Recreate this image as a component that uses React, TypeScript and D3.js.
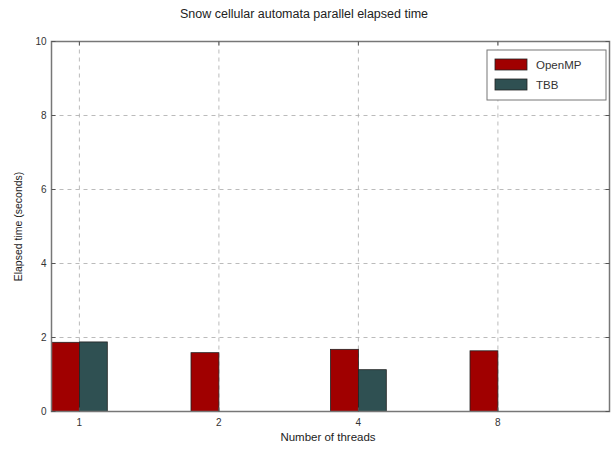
import React from "react";
import * as d3 from "d3";

// Thread counts on the x axis and elapsed times (seconds) per implementation
const threadCounts = ["1", "2", "4", "8"];
const openmpTimes = [1.87, 1.59, 1.68, 1.64];
const tbbTimes: (number | null)[] = [1.88, null, 1.13, null];
const yTicks = [0, 2, 4, 6, 8, 10];

const series = [
  { name: "OpenMP", values: openmpTimes, color: "#a00000", offset: -1 },
  { name: "TBB", values: tbbTimes, color: "#2f5052", offset: 0 },
];

const W = 612;
const H = 451;
const margin = { left: 51.5, right: 2.5, top: 41.5, bottom: 39.5 };
const barWidth = 0.2;
const font = "'Liberation Sans', Arial, sans-serif";

export default function App() {
  const x = d3
    .scaleLinear()
    .domain([-0.2, 3.8])
    .range([margin.left, W - margin.right]);
  const y = d3
    .scaleLinear()
    .domain([0, 10])
    .range([H - margin.bottom, margin.top]);

  const plotW = W - margin.right - margin.left;
  const plotH = H - margin.bottom - margin.top;

  return (
    <svg
      width={W}
      height={H}
      style={{ position: "absolute", left: 0, top: 0, background: "#fff" }}
      fontFamily={font}
    >
      <text x={304} y={18} textAnchor="middle" fontSize={12.5} fill="#222">
        Snow cellular automata parallel elapsed time
      </text>

      {/* grid */}
      {threadCounts.map((_, i) => (
        <line
          key={"gx" + i}
          x1={x(i)}
          x2={x(i)}
          y1={margin.top}
          y2={H - margin.bottom}
          stroke="#aaa"
          strokeWidth={0.8}
          strokeDasharray="4,4"
        />
      ))}
      {yTicks.slice(1, -1).map((t) => (
        <line
          key={"gy" + t}
          x1={margin.left}
          x2={W - margin.right}
          y1={y(t)}
          y2={y(t)}
          stroke="#aaa"
          strokeWidth={0.8}
          strokeDasharray="4,4"
        />
      ))}

      {/* bars */}
      {series.map((s) =>
        s.values.map((v, i) =>
          v == null ? null : (
            <rect
              key={s.name + i}
              x={x(i + s.offset * barWidth)}
              y={y(v)}
              width={x(barWidth) - x(0)}
              height={y(0) - y(v)}
              fill={s.color}
              stroke="#222"
              strokeWidth={0.8}
            />
          )
        )
      )}

      {/* frame */}
      <rect
        x={margin.left}
        y={margin.top}
        width={plotW}
        height={plotH}
        fill="none"
        stroke="#777"
        strokeWidth={1.5}
      />

      {/* y ticks */}
      {yTicks.map((t) => (
        <g key={"yt" + t}>
          <line x1={margin.left} x2={margin.left + 4} y1={y(t)} y2={y(t)} stroke="#555" />
          <line x1={W - margin.right} x2={W - margin.right - 4} y1={y(t)} y2={y(t)} stroke="#555" />
          <text
            x={margin.left - 5}
            y={y(t)}
            dy="0.35em"
            textAnchor="end"
            fontSize={10}
            fill="#333"
          >
            {t}
          </text>
        </g>
      ))}

      {/* x ticks */}
      {threadCounts.map((c, i) => (
        <g key={"xt" + i}>
          <line x1={x(i)} x2={x(i)} y1={H - margin.bottom} y2={H - margin.bottom - 4} stroke="#555" />
          <line x1={x(i)} x2={x(i)} y1={margin.top} y2={margin.top + 4} stroke="#555" />
          <text x={x(i)} y={H - margin.bottom + 14} textAnchor="middle" fontSize={10} fill="#333">
            {c}
          </text>
        </g>
      ))}

      <text x={328} y={441} textAnchor="middle" fontSize={11.5} fill="#222">
        Number of threads
      </text>
      <text
        transform={`translate(22,${(margin.top + H - margin.bottom) / 2}) rotate(-90)`}
        textAnchor="middle"
        fontSize={10.5}
        fill="#222"
      >
        Elapsed time (seconds)
      </text>

      {/* legend */}
      <g transform="translate(487,50)">
        <rect x={0} y={0} width={119} height={50} fill="#fff" stroke="#777" strokeWidth={1} />
        {series.map((s, k) => (
          <g key={"lg" + s.name} transform={`translate(8,${9 + k * 20})`}>
            <rect x={0} y={0} width={32} height={11} fill={s.color} stroke="#222" strokeWidth={0.8} />
            <text x={41} y={6} dy="0.35em" fontSize={11.5} fill="#333">
              {s.name}
            </text>
          </g>
        ))}
      </g>
    </svg>
  );
}
